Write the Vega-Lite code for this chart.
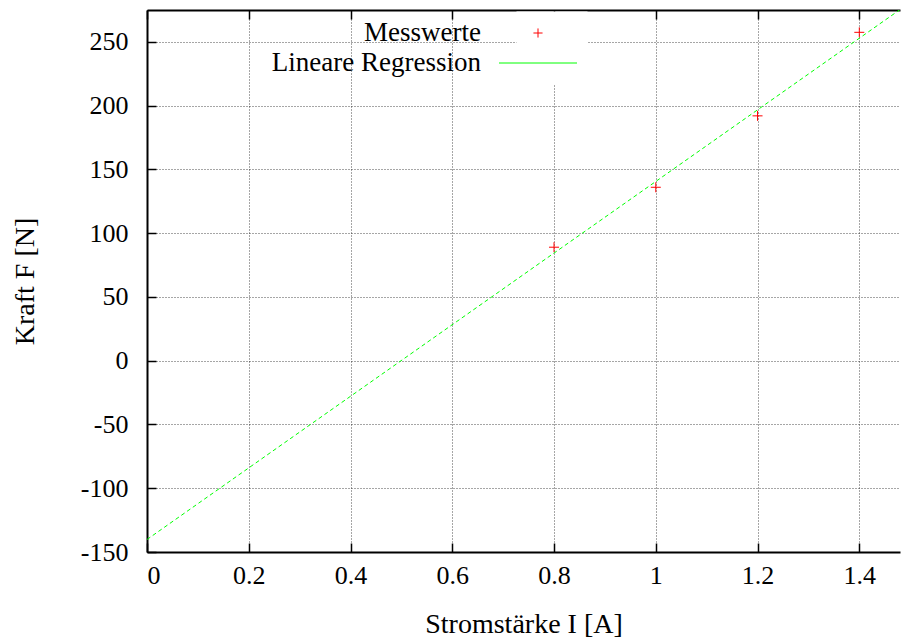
{
  "$schema": "https://vega.github.io/schema/vega-lite/v6.json",
  "width": 753,
  "height": 542,
  "autosize": "none",
  "padding": {"left": 147, "top": 10, "right": 1, "bottom": 88},
  "background": "#ffffff",
  "config": {
    "font": "Liberation Serif",
    "view": {"stroke": null},
    "axis": {
      "labelFont": "Liberation Serif",
      "labelFontSize": 26,
      "labelColor": "#000000",
      "titleFont": "Liberation Serif",
      "titleFontSize": 28,
      "titleFontWeight": "normal",
      "titleColor": "#000000",
      "domainColor": "#000000",
      "domainWidth": 2,
      "tickColor": "#000000",
      "tickWidth": 1.5,
      "tickSize": -9,
      "gridColor": "#000000",
      "gridOpacity": 0.7,
      "gridDash": [1, 2],
      "gridWidth": 1,
      "labelExpr": "'' + datum.value"
    },
    "axisTop": {
      "labels": false,
      "grid": false
    },
    "legend": {
      "orient": "none",
      "legendX": 369.5,
      "legendY": 1.5,
      "padding": 8,
      "direction": "vertical",
      "fillColor": "#ffffff",
      "labelFont": "Liberation Serif",
      "labelFontSize": 27,
      "labelColor": "#000000",
      "labelAlign": "right",
      "labelOffset": -70.5,
      "labelLimit": 0,
      "symbolSize": 676,
      "symbolStrokeWidth": 1,
      "rowPadding": 2
    }
  },
  "data": {
    "values": [
      {"I": 0.8, "F": 89},
      {"I": 1.0, "F": 136},
      {"I": 1.2, "F": 192},
      {"I": 1.4, "F": 257.5}
    ]
  },
  "layer": [
    {
      "mark": {"type": "point", "shape": "M-1,0H1M0,-1V1", "filled": false, "strokeWidth": 1, "size": 100, "opacity": 1},
      "encoding": {
        "x": {
          "field": "I",
          "type": "quantitative",
          "scale": {"domain": [0, 1.48], "nice": false, "zero": false},
          "axis": {
            "orient": "bottom",
            "values": [0, 0.2, 0.4, 0.6, 0.8, 1, 1.2, 1.4],
            "grid": true,
            "labelPadding": 19,
            "labelDx": 3,
            "labelBaseline": "top",
            "title": "Stromstärke I [A]",
            "titleY": 80,
            "titleBaseline": "alphabetic"
          }
        },
        "y": {
          "field": "F",
          "type": "quantitative",
          "scale": {"domain": [-150, 275], "nice": false, "zero": false},
          "axis": {
            "values": [-150, -100, -50, 0, 50, 100, 150, 200, 250],
            "grid": true,
            "labelPadding": 28,
            "labelDy": -2,
            "title": "Kraft F [N]",
            "titleX": -114,
            "titleY": 271,
            "titleAngle": -90,
            "titleAlign": "center",
            "titleBaseline": "alphabetic"
          }
        },
        "color": {
          "datum": "Messwerte",
          "type": "nominal",
          "scale": {"domain": ["Messwerte", "Lineare Regression"], "range": ["#ff0000", "#00ff00"]},
          "legend": {
            "title": null,
            "symbolType": {"expr": "datum.value === 'Messwerte' ? 'M-0.35,0H0.35M0,-0.35V0.35' : 'M-3,0H3'"},
            "encode": {
              "symbols": {
                "shape": {"condition": {"test": "datum.value === 'Messwerte'", "value": "M-0.35,0H0.35M0,-0.35V0.35"}, "value": "M-3,0H3"},
                "stroke": {"condition": {"test": "datum.value === 'Messwerte'", "value": "#ff0000"}, "value": "#00ff00"},
                "strokeDash": {"condition": {"test": "datum.value === 'Messwerte'", "value": [1, 0]}, "value": [4, 3]},
                "fill": {"value": "transparent"},
                "opacity": {"value": 1},
                "strokeWidth": {"value": 1}
              }
            }
          }
        }
      }
    },
    {
      "transform": [{"regression": "F", "on": "I", "extent": [0, 1.48]}],
      "mark": {"type": "line", "strokeDash": [4, 3], "strokeWidth": 1, "clip": true},
      "encoding": {
        "x": {"field": "I", "type": "quantitative", "axis": null},
        "y": {"field": "F", "type": "quantitative"},
        "color": {"datum": "Lineare Regression", "type": "nominal"}
      }
    },
    {
      "mark": {"type": "point", "opacity": 0},
      "encoding": {
        "x": {
          "field": "I",
          "type": "quantitative",
          "title": null,
          "axis": {
            "orient": "top",
            "values": [0, 0.2, 0.4, 0.6, 0.8, 1, 1.2, 1.4],
            "labels": false,
            "grid": false,
            "title": null
          }
        }
      }
    }
  ]
}
